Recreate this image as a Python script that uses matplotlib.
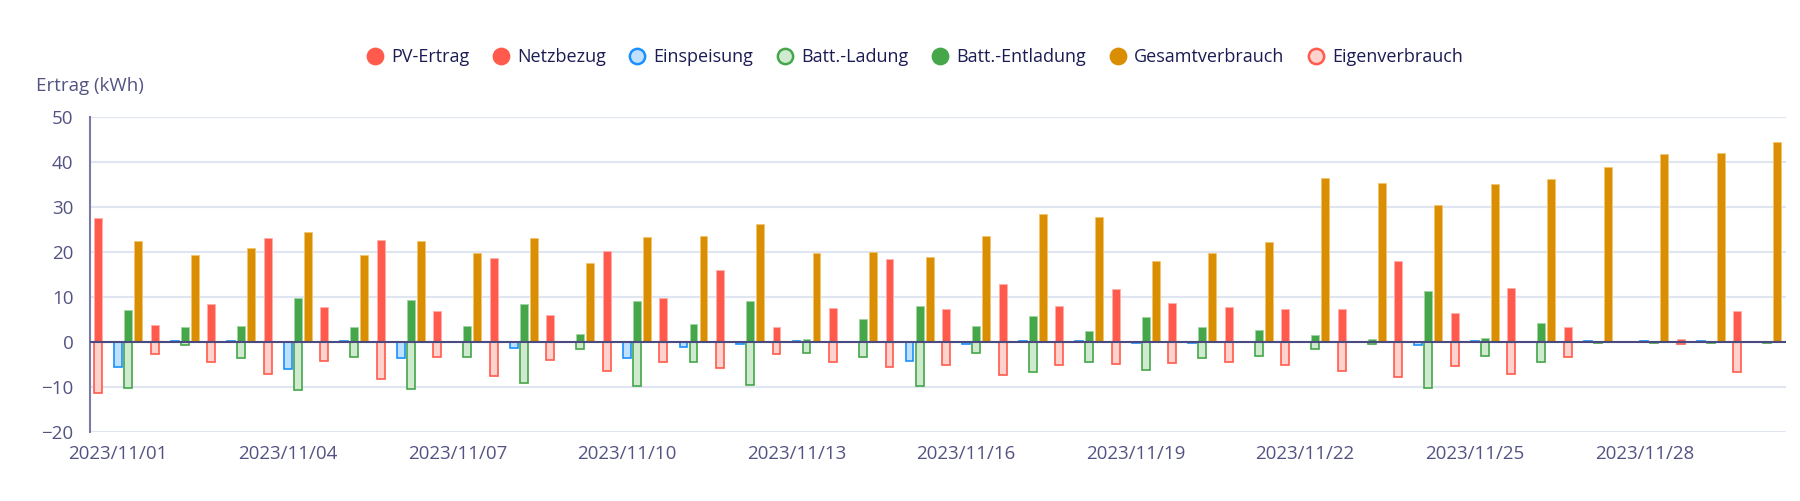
#!/usr/bin/env python3
"""
Daily energy balance for November 2023 (grouped / stacked bars)
"""

import numpy as np
import matplotlib
matplotlib.use("Agg")
import matplotlib.pyplot as plt
from matplotlib.lines import Line2D

plt.rcParams['font.family'] = ['Open Sans', 'DejaVu Sans']

# Categories: one per day
days = [f"2023/11/{d:02d}" for d in range(1, 31)]

# Series values (kWh)
pv_ertrag = [27.6, 3.8, 8.4, 23.1, 7.8, 22.6, 7.0, 18.6, 6.1, 20.3,
             9.7, 15.9, 3.4, 7.5, 18.5, 7.4, 13.0, 8.1, 11.9, 8.6,
             7.9, 7.4, 7.4, 18.1, 6.4, 12.0, 3.4, 0.3, 0.8, 7.0]
netzbezug = [0, 0, 0, 0, 0, 0, 0, 0, 0, 0,
             0, 0, 0, 0, 0, 0, 0, 0, 0, 0,
             0, 0, 0, 0, 0, 0, 0, 0, 0, 0]
einspeisung = [-5.5, 0.2, 0.2, -6.0, 0.2, -3.4, 0.15, -1.2, 0.15, -3.5,
               -1.0, -0.4, 0.2, 0.15, -4.2, -0.4, 0.2, 0.2, -0.1, -0.1,
               0.15, 0.15, 0.0, -0.6, 0.2, 0.0, 0.2, 0.2, 0.2, 0.05]
batt_ladung = [-10.2, -0.7, -3.5, -10.6, -3.2, -10.3, -3.2, -9.1, -1.6, -9.7,
               -4.3, -9.5, -2.4, -3.2, -9.8, -2.4, -6.7, -4.5, -6.2, -3.5,
               -3.0, -1.6, -0.4, -10.2, -3.0, -4.5, -0.1, -0.1, -0.1, -0.1]
batt_entladung = [7.1, 3.4, 3.5, 9.9, 3.3, 9.3, 3.5, 8.5, 1.8, 9.2,
                  4.1, 9.2, 0.7, 5.2, 8.0, 3.5, 5.7, 2.4, 5.5, 3.4,
                  2.8, 1.6, 0.6, 11.3, 1.0, 4.3, 0, 0, 0, 0]
gesamtverbrauch = [22.4, 19.4, 20.9, 24.5, 19.4, 22.5, 19.7, 23.1, 17.5, 23.3,
                   23.6, 26.3, 19.7, 20.0, 18.8, 23.6, 28.5, 27.7, 17.9, 19.8,
                   22.3, 36.5, 35.2, 30.5, 35.0, 36.1, 38.8, 41.7, 41.9, 44.5]
eigenverbrauch = [-11.2, -2.7, -4.4, -7.1, -4.1, -8.1, -3.3, -7.5, -3.9, -6.4,
                  -4.4, -5.8, -2.7, -4.3, -5.4, -5.1, -7.3, -5.1, -4.8, -4.6,
                  -4.5, -5.1, -6.4, -7.8, -5.3, -7.0, -3.2, 0, -0.5, -6.6]

tick_days = days[::3]

# Colours
RED = '#ff5a4b'
RED_LIGHT = '#ffd2cd'
BLUE = '#1890ff'
BLUE_LIGHT = '#c0e0ff'
GREEN = '#45a64a'
GREEN_LIGHT = '#d0ead0'
ORANGE = '#d98e04'
TEXT = '#1c1c54'
AXIS_TEXT = '#535383'
GRID = '#e0e6f1'

fig = plt.figure(figsize=(18, 5.01), dpi=100)
ax = fig.add_axes([0.05, 0.137, 0.942, 0.630])

x = np.arange(len(days))
step = 0.177
w = 0.14

# slot 1: PV-Ertrag with Eigenverbrauch below
ax.bar(x - 2 * step, pv_ertrag, w, color=RED, edgecolor='#ffb0a8', linewidth=0.6, zorder=2)
ax.bar(x - 2 * step, eigenverbrauch, w, color=RED_LIGHT, edgecolor=RED, linewidth=1.2, zorder=2)
# slot 2: Netzbezug
ax.bar(x - step, netzbezug, w, color=RED, linewidth=0, zorder=2)
# slot 3: Einspeisung
ax.bar(x, einspeisung, w, color=BLUE_LIGHT, edgecolor=BLUE, linewidth=1.2, zorder=2)
# slot 4: battery charge / discharge
ax.bar(x + step, batt_ladung, w, color=GREEN_LIGHT, edgecolor=GREEN, linewidth=1.2, zorder=2)
ax.bar(x + step, batt_entladung, w, color=GREEN, edgecolor='#9fd6a1', linewidth=0.6, zorder=2)
# slot 5: Gesamtverbrauch
ax.bar(x + 2 * step, gesamtverbrauch, w, color=ORANGE, edgecolor='#f3c56b', linewidth=0.6, zorder=2)

ax.axhline(0, color='#4a4a80', linewidth=1.5, zorder=4)

ax.set_xlim(-0.5, len(days) - 0.5)
ax.set_ylim(-20, 50)
ax.set_yticks(range(-20, 51, 10))
ax.set_xticks(x[::3])
ax.set_xticklabels(tick_days)
ax.tick_params(axis='both', length=0, labelsize=13.5, labelcolor=AXIS_TEXT)
ax.tick_params(axis='x', pad=9)
ax.tick_params(axis='y', pad=12)

ax.grid(axis='y', color=GRID, linewidth=1.5, zorder=0)
ax.set_axisbelow(True)
for side in ['top', 'right', 'bottom']:
    ax.spines[side].set_visible(False)
ax.spines['left'].set_color('#7a7aa6')
ax.spines['left'].set_linewidth(1.5)

fig.text(0.05, 0.829, "Ertrag (kWh)", ha='center', va='center',
         fontsize=13.5, color=AXIS_TEXT)

# Legend
def dot(face, edge):
    return Line2D([], [], linestyle='none', marker='o', markersize=11,
                  markerfacecolor=face, markeredgecolor=edge, markeredgewidth=1.8)

handles = [dot(RED, RED), dot(RED, RED), dot(BLUE_LIGHT, BLUE),
           dot(GREEN_LIGHT, GREEN), dot(GREEN, GREEN), dot(ORANGE, ORANGE),
           dot(RED_LIGHT, RED)]
labels = ['PV-Ertrag', 'Netzbezug', 'Einspeisung', 'Batt.-Ladung',
          'Batt.-Entladung', 'Gesamtverbrauch', 'Eigenverbrauch']
leg = fig.legend(handles, labels, loc='center', bbox_to_anchor=(0.508, 0.886),
                 ncol=7, frameon=False, fontsize=13, handlelength=1.0,
                 handletextpad=0.4, columnspacing=1.25)
for t in leg.get_texts():
    t.set_color(TEXT)

fig.savefig('out.png', dpi=100)
plt.close(fig)
